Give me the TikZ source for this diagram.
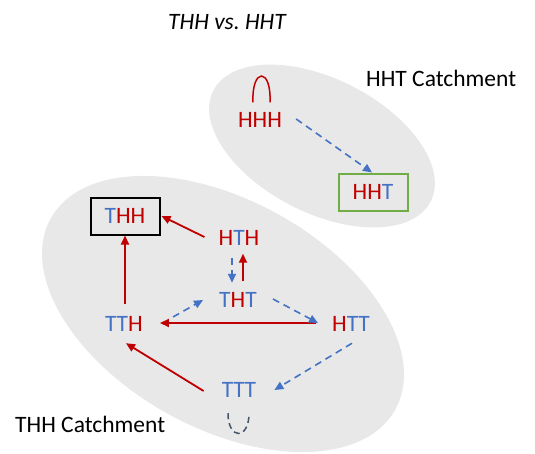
\documentclass[tikz,border=0pt]{standalone}
\usepackage{fontspec}
\setmainfont{Carlito}
\usetikzlibrary{arrows.meta,calc}

\definecolor{hred}{RGB}{192,0,0}
\definecolor{tblue}{RGB}{68,114,196}
\definecolor{catchgray}{RGB}{232,232,232}
\definecolor{boxgreen}{RGB}{112,173,71}
\definecolor{loopgray}{RGB}{68,84,106}

\newcommand{\cH}{\textcolor{hred}{H}}
\newcommand{\cT}{\textcolor{tblue}{T}}

\tikzset{
  coin/.style={inner sep=0pt, font=\fontsize{23.5}{28}\selectfont},
  goal/.style={coin, draw, line width=2pt, minimum width=69pt, minimum height=37pt},
  win/.style={-{Triangle[length=9pt,width=8pt]}, hred, line width=1.8pt},
  flip/.style={-{Triangle[length=9pt,width=8pt]}, tblue, line width=1.6pt, dash pattern=on 7pt off 5pt},
  catchtext/.style={font=\fontsize{23.5}{28}\selectfont, anchor=west, inner sep=0pt}
}

\begin{document}
\begin{tikzpicture}[x=1pt,y=-1pt]
                \useasboundingbox (0,0) rectangle (535,453);

                % Draw the two catchments
                \fill[catchgray, rotate around={-27:(322,146)}] (322,146) ellipse [x radius=122, y radius=67];
                \fill[catchgray, rotate around={-29:(223,314)}] (223,314) ellipse [x radius=197, y radius=114];

                % Title and catchment names
                \node[font=\fontsize{23.5}{28}\selectfont\itshape, inner sep=0pt] (title) at (227,22) {THH vs.\ HHT};
                \node[catchtext] (hhtname) at (366,78) {HHT Catchment};
                \node[catchtext] (thhname) at (15,424) {THH Catchment};

                % Place the states
                \node[coin] (hhh) at (260,120) {\cH\cH\cH};
                \node[goal, draw=boxgreen] (hht) at (373,192) {\cH\cH\cT};
                \node[goal] (thh) at (125,216) {\cT\cH\cH};
                \node[coin] (hth) at (239,238) {\cH\cT\cH};
                \node[coin] (tht) at (238,300) {\cT\cH\cT};
                \node[coin] (tth) at (124,324) {\cT\cT\cH};
                \node[coin] (htt) at (351,324) {\cH\cT\cT};
                \node[coin] (ttt) at (239,390) {\cT\cT\cT};

                % Draw the red moves
                \draw[win] ($(hth.west)+(-14,-1)$) -- ($(thh.east)+(1,0)$);
                \draw[win] ($(tth.north)+(1,-12)$) -- (thh.south);
                \draw[win] ($(tht.north)+(5,-11)$) -- ($(hth.south)+(4,8)$);
                \draw[win] ($(htt.west)+(-16,-1)$) -- ($(tth.east)+(17,-1)$);
                \draw[win] ($(ttt.west)+(-18,1)$) -- ($(tth.south)+(2,11.5)$);

                % Draw the blue moves
                \draw[flip] ($(hhh.east)+(14,-1)$) -- ($(hht.north)+(-1,0)$);
                \draw[flip] ($(hth.south)+(-7,12.5)$) -- ($(tht.north)+(-6,-9.5)$);
                \draw[flip] ($(tth.east)+(30,-7)$) -- ($(tht.west)+(-16,0)$);
                \draw[flip] ($(tht.east)+(16,-1)$) -- ($(htt.west)+(-14,-1)$);
                \draw[flip] ($(htt.south)+(1,11.5)$) -- ($(ttt.east)+(18,0)$);

                % Draw the loops
                \draw[hred, line width=1.5pt] ($(hhh.north)+(-7,-10)$) .. controls +(-1.5,-35) and +(1.5,-35) .. ($(hhh.north)+(10,-10)$);
                \draw[loopgray, line width=1.5pt, dash pattern=on 6pt off 4pt] ($(ttt.south)+(-11,15.5)$) .. controls +(0,27) and +(0,27) .. ($(ttt.south)+(10,15.5)$);

            \end{tikzpicture}
\end{document}
